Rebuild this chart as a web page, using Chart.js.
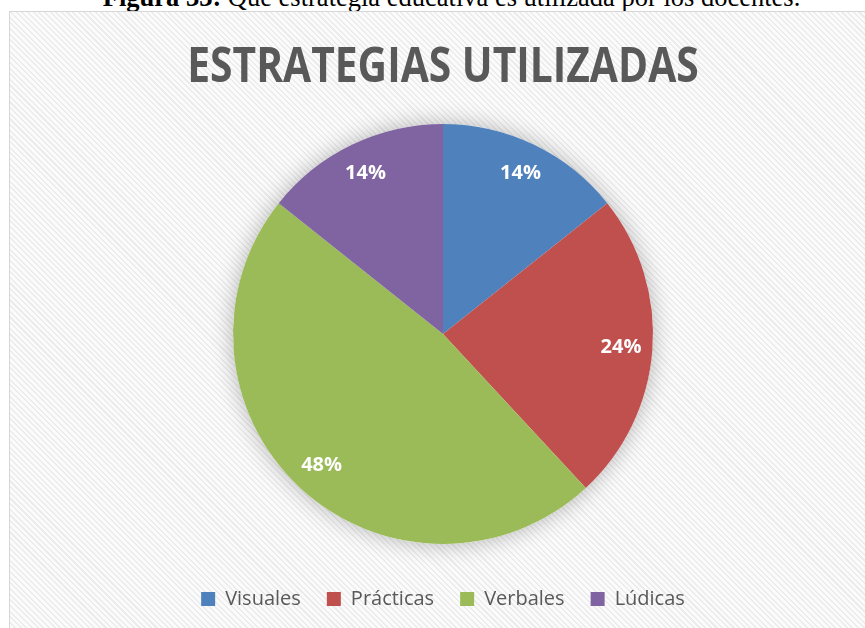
<!DOCTYPE html>
<html lang="es">
<head>
<meta charset="utf-8">
<title>Estrategias utilizadas</title>
<script src="https://cdn.jsdelivr.net/npm/chart.js@4"></script>
<style>
  html, body { margin: 0; padding: 0; background: #fff; overflow: hidden; }
  body { width: 865px; height: 628px; position: relative; }
  .caption {
    position: absolute; left: 0; width: 903px; top: -16px;
    text-align: center; font: 26.5px/26px "Liberation Serif", serif; color: #000;
    white-space: nowrap;
  }
  .frame {
    position: absolute; left: 9px; top: 11px; width: 866px; height: 620px;
    border: 1px solid #d6d6d6;
    background: repeating-linear-gradient(45deg, #fbfbfb 0 2px, #ececec 2px 3.5px, #fbfbfb 3.5px 4px);
  }
</style>
</head>
<body>
<div class="caption"><b>Figura 33:</b> Qué estrategia educativa es utilizada por los docentes.</div>
<div class="frame"><canvas id="chartEstrategias"></canvas></div>
<script>
// estrategias educativas usadas por los docentes
const CATEGORIES = ["Visuales", "Prácticas", "Verbales", "Lúdicas"];
const VALUES = [14.3, 23.8, 47.6, 14.3];
const LABELS_PCT = ["14%", "24%", "48%", "14%"];
const COLORS = ["#4f81bd", "#c0504d", "#9bbb59", "#8064a2"];
const TITLE = "ESTRATEGIAS UTILIZADAS";

const TEXT = "#595959";

// título estrecho (tipo Calibri): se comprime en horizontal
const narrowTitle = {
  id: "narrowTitle",
  afterDraw(chart) {
    const ctx = chart.ctx;
    ctx.save();
    ctx.font = "bold 49px 'Open Sans', sans-serif";
    ctx.fillStyle = TEXT;
    ctx.textAlign = "center";
    ctx.textBaseline = "alphabetic";
    ctx.translate(chart.width / 2, 70);
    ctx.scale(0.832, 1);
    ctx.fillText(TITLE, 0, 0);
    ctx.restore();
  },
};

// halo gris detrás del pastel
const pieShadow = {
  id: "pieShadow",
  beforeDatasetsDraw(chart) {
    const arc = chart.getDatasetMeta(0).data[0];
    if (!arc) return;
    const { x, y, outerRadius } = arc.getProps(["x", "y", "outerRadius"], true);
    const ctx = chart.ctx;
    ctx.save();
    ctx.shadowColor = "rgba(0,0,0,0.28)";
    ctx.shadowBlur = 22;
    ctx.fillStyle = "#fff";
    ctx.beginPath();
    ctx.arc(x, y, outerRadius, 0, Math.PI * 2);
    ctx.fill();
    ctx.restore();
  },
};

// etiquetas de porcentaje dentro de cada sector
const sliceLabels = {
  id: "sliceLabels",
  afterDatasetsDraw(chart) {
    const ctx = chart.ctx;
    ctx.save();
    ctx.font = "bold 20px 'Open Sans', sans-serif";
    ctx.fillStyle = "#fff";
    ctx.textAlign = "center";
    ctx.textBaseline = "middle";
    chart.getDatasetMeta(0).data.forEach((arc, i) => {
      const p = arc.getProps(["x", "y", "startAngle", "endAngle", "outerRadius"], true);
      const mid = (p.startAngle + p.endAngle) / 2;
      const r = p.outerRadius * 0.85;
      ctx.fillText(LABELS_PCT[i], p.x + Math.cos(mid) * r, p.y + Math.sin(mid) * r);
    });
    ctx.restore();
  },
};

new Chart(document.getElementById("chartEstrategias"), {
  type: "pie",
  data: {
    labels: CATEGORIES,
    datasets: [
      {
        data: VALUES,
        backgroundColor: COLORS,
        borderWidth: 0,
        radius: 210,
      },
    ],
  },
  options: {
    responsive: true,
    maintainAspectRatio: false,
    animation: false,
    layout: { padding: { top: 93, bottom: 13 } },
    plugins: {
      title: { display: false },
      legend: {
        position: "bottom",
        labels: {
          color: TEXT,
          font: { family: "'Open Sans', sans-serif", size: 20 },
          boxWidth: 14,
          boxHeight: 14,
          padding: 26,
        },
      },
      tooltip: { enabled: false },
    },
  },
  plugins: [pieShadow, sliceLabels, narrowTitle],
});
</script>
</body>
</html>
